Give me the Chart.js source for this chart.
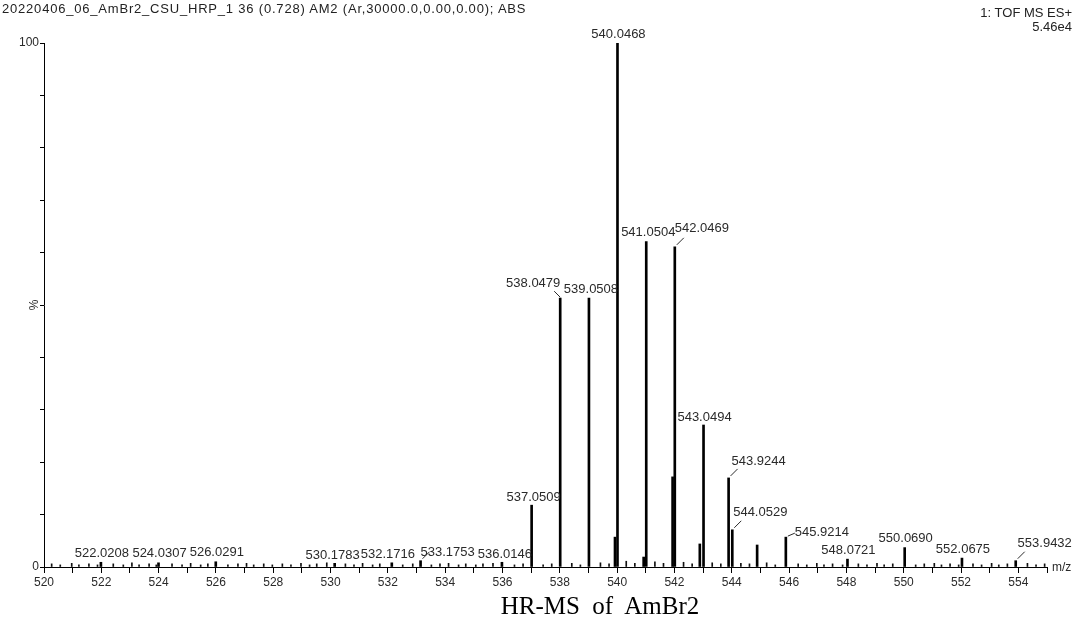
<!DOCTYPE html>
<html>
<head>
<meta charset="utf-8">
<title>HR-MS of AmBr2</title>
<script src="https://cdn.jsdelivr.net/npm/chart.js@4.4.1/dist/chart.umd.min.js"></script>
<style>
  html, body { margin: 0; padding: 0; background: #fff; }
  #wrap { position: relative; width: 1081px; height: 621px; overflow: hidden; }
  #c { position: absolute; left: 0; top: 0; }
  .hdr { position: absolute; font-family: "Liberation Sans", Arial, sans-serif; color: #222; font-size: 13px; white-space: pre; line-height: 1; }
  #run { left: 2px; top: 2px; letter-spacing: 0.8px; }
  #acq { right: 9px; top: 6px; text-align: right; }
  #base { right: 9px; top: 20px; text-align: right; }
  #caption { position: absolute; left: 0; width: 1200px; top: 593px; text-align: center;
             font-family: "Liberation Serif", "Times New Roman", serif; font-size: 25px; color: #000; white-space: pre; line-height: 1; }
</style>
</head>
<body>
<div id="wrap">
  <canvas id="c" width="1081" height="621"></canvas>
  <div class="hdr" id="run">20220406_06_AmBr2_CSU_HRP_1 36 (0.728) AM2 (Ar,30000.0,0.00,0.00); ABS</div>
  <div class="hdr" id="acq">1: TOF MS ES+</div>
  <div class="hdr" id="base">5.46e4</div>
  <div id="caption">HR-MS  of  AmBr2</div>
</div>
<script>
// Centroided peaks (m/z, relative intensity %)
const peakMz  = [522.0208, 524.0307, 526.0291, 530.1783, 532.1716, 533.1753, 536.0146,
                 537.0509, 538.0479, 539.0508, 539.9600, 540.0468, 540.9600, 541.0504,
                 541.9700, 542.0469, 542.9200, 543.0494, 543.9244, 544.0529, 544.9200,
                 545.9214, 548.0721, 550.0690, 552.0675, 553.9432];
const peakPct = [0.9, 0.8, 1.0, 0.7, 0.8, 1.2, 0.9,
                 11.8, 51.3, 51.3, 5.7, 100, 1.9, 62.1,
                 17.2, 61.1, 4.4, 27.1, 17.0, 7.1, 4.2,
                 5.7, 1.5, 3.7, 1.7, 1.2];

// Peaks that carry an m/z annotation
const labelledMz = [522.0208, 524.0307, 526.0291, 530.1783, 532.1716, 533.1753, 536.0146,
                    537.0509, 538.0479, 539.0508, 540.0468, 541.0504, 542.0469, 543.0494,
                    543.9244, 544.0529, 545.9214, 548.0721, 550.0690, 552.0675, 553.9432];

// Baseline noise peaks
const noiseMz  = [520.25, 520.55, 520.95, 521.20, 521.55, 521.85, 522.40, 522.75, 523.05, 523.30,
                  523.65, 523.90, 524.45, 524.80, 525.10, 525.45, 525.70, 526.40, 526.75, 527.05,
                  527.30, 527.65, 527.95, 528.30, 528.60, 528.95, 529.25, 529.50, 529.85, 530.50,
                  530.80, 531.10, 531.45, 531.70, 532.50, 532.85, 533.50, 533.80, 534.10, 534.45,
                  534.70, 535.05, 535.30, 535.65, 536.40, 536.70, 537.40, 537.70, 538.40, 538.70,
                  539.40, 539.70, 540.30, 540.60, 541.30, 541.60, 542.30, 542.60, 543.30, 543.60,
                  544.30, 544.60, 545.20, 545.50, 546.30, 546.60, 546.95, 547.20, 547.50, 547.85,
                  548.40, 548.70, 549.05, 549.30, 549.60, 550.40, 550.70, 551.05, 551.30, 551.60,
                  551.90, 552.40, 552.70, 553.05, 553.30, 553.60, 554.30, 554.60, 554.90];
const noisePct = [0.6, 0.4, 0.7, 0.4, 0.6, 0.4, 0.6, 0.4, 0.8, 0.4,
                  0.6, 0.4, 0.6, 0.4, 0.7, 0.4, 0.6, 0.4, 0.6, 0.7,
                  0.4, 0.6, 0.4, 0.6, 0.4, 0.7, 0.4, 0.6, 0.8, 0.6,
                  0.4, 0.7, 0.4, 0.6, 0.4, 0.6, 0.4, 0.6, 0.7, 0.4,
                  0.6, 0.4, 0.6, 0.7, 0.4, 0.6, 0.4, 0.6, 0.7, 0.4,
                  0.8, 0.6, 1.1, 0.7, 1.0, 0.7, 0.9, 0.6, 0.8, 0.6,
                  0.7, 0.6, 0.8, 0.4, 0.6, 0.4, 0.7, 0.4, 0.6, 0.4,
                  0.6, 0.4, 0.7, 0.4, 0.6, 0.4, 0.6, 0.7, 0.4, 0.6,
                  0.4, 0.6, 0.4, 0.7, 0.4, 0.6, 0.7, 0.4, 0.6];

// Axis range and tick labels
const mzMin = 520, mzMax = 555;
const mzTickLabels = [520, 522, 524, 526, 528, 530, 532, 534, 536, 538, 540, 542, 544, 546, 548, 550, 552, 554];
const pctTickLabels = [0, 100];

// Annotation placement: text centre offset from the peak apex, and leader style
const labelPlacement = {
  '540.0468': { dx: 0,   dy: -9 },
  '538.0479': { dx: -28, dy: -15, leader: 'left' },
  '539.0508': { dx: 1,   dy: -9 },
  '541.0504': { dx: 1,   dy: -9 },
  '542.0469': { dx: 26,  dy: -18, leader: 'right' },
  '543.0494': { dx: 0,   dy: -8 },
  '543.9244': { dx: 29,  dy: -16, leader: 'right' },
  '544.0529': { dx: 27,  dy: -17, leader: 'right' },
  '545.9214': { dx: 35,  dy: -5,  leader: 'flat' },
  '537.0509': { dx: 1,   dy: -8 },
  '536.0146': { dx: 2,   dy: -8 },
  '533.1753': { dx: 26,  dy: -8,  leader: 'right' },
  '532.1716': { dx: -5,  dy: -8 },
  '530.1783': { dx: -3,  dy: -8 },
  '553.9432': { dx: 28,  dy: -17, leader: 'right' }
};

const peakPoints  = peakMz.map((m, i) => ({ x: m, y: peakPct[i] }));
const noisePoints = noiseMz.map((m, i) => ({ x: m, y: noisePct[i] }));

const peakLabels = {
  id: 'peakLabels',
  afterDatasetsDraw(chart) {
    const { ctx, scales: { x, y } } = chart;
    ctx.save();
    ctx.font = '13px "Liberation Sans", Arial, sans-serif';
    ctx.fillStyle = '#2a2a2a';
    ctx.strokeStyle = '#2a2a2a';
    ctx.lineWidth = 1;
    ctx.textAlign = 'center';
    ctx.textBaseline = 'middle';
    labelledMz.forEach(m => {
      const i = peakMz.indexOf(m);
      const key = m.toFixed(4);
      const p = labelPlacement[key] || { dx: 0, dy: -9 };
      const px = x.getPixelForValue(m);
      const py = y.getPixelForValue(peakPct[i]);
      ctx.fillText(key, px + p.dx, py + p.dy);
      if (p.leader) {
        ctx.beginPath();
        if (p.leader === 'right') { ctx.moveTo(px + 1, py - 2); ctx.lineTo(px + 8, py - 9); }
        else if (p.leader === 'left') { ctx.moveTo(px - 1, py - 1); ctx.lineTo(px - 7, py - 7); }
        else { ctx.moveTo(px + 1, py - 1); ctx.lineTo(px + 8, py - 4); }
        ctx.stroke();
      }
    });
    // axis unit at the end of the m/z axis
    ctx.textAlign = 'left';
    ctx.font = '12px "Liberation Sans", Arial, sans-serif';
    ctx.fillText('m/z', chart.chartArea.right + 5, chart.chartArea.bottom + 1);
    // y-axis title
    ctx.translate(35, (chart.chartArea.top + chart.chartArea.bottom) / 2);
    ctx.rotate(-Math.PI / 2);
    ctx.textAlign = 'center';
    ctx.fillText('%', 0, 0);
    ctx.restore();
  }
};

new Chart(document.getElementById('c'), {
  type: 'bar',
  data: {
    datasets: [
      { data: peakPoints, backgroundColor: '#000', barThickness: 2, borderWidth: 0 },
      { data: noisePoints, backgroundColor: '#111', barThickness: 1, borderWidth: 0 }
    ]
  },
  options: {
    responsive: false,
    devicePixelRatio: 1,
    animation: false,
    layout: { padding: { top: 43, right: 34, bottom: 34, left: 0 } },
    plugins: { legend: { display: false }, tooltip: { enabled: false } },
    scales: {
      x: {
        type: 'linear',
        min: mzMin, max: mzMax,
        offset: false,
        grid: { display: true, drawOnChartArea: false, drawTicks: true, tickLength: 6, color: '#000', offset: false },
        border: { display: true, color: '#000', width: 1 },
        ticks: {
          stepSize: 1, autoSkip: false, maxRotation: 0, padding: 2,
          color: '#2a2a2a', font: { family: '"Liberation Sans", Arial, sans-serif', size: 12 },
          callback: v => mzTickLabels.includes(v) ? String(v) : ''
        },
        afterFit: s => { s.height = 20; }
      },
      y: {
        min: 0, max: 100,
        grid: { display: true, drawOnChartArea: false, drawTicks: true, tickLength: 4, color: '#000' },
        border: { display: true, color: '#000', width: 1 },
        ticks: {
          stepSize: 10, autoSkip: false, padding: 1,
          color: '#2a2a2a', font: { family: '"Liberation Sans", Arial, sans-serif', size: 12 },
          callback: v => pctTickLabels.includes(v) ? String(v) : ''
        },
        afterFit: s => { s.width = 44; }
      }
    }
  },
  plugins: [peakLabels]
});
</script>
</body>
</html>
